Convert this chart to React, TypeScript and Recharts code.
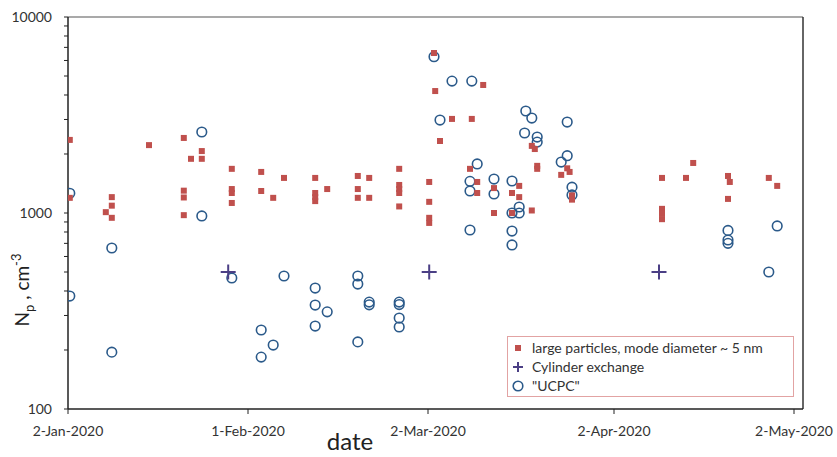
import { ScatterChart, Scatter, XAxis, YAxis, Legend, ReferenceLine } from 'recharts';

// [days since 2-Jan-2020, Np in cm^-3]
const largeParticles: [number, number][] = [
  [0.3, 2360], [0.3, 1195],
  [6.3, 1010], [7.3, 1205], [7.3, 1090], [7.3, 945],
  [13.5, 2220],
  [19.3, 2415], [19.3, 1300], [19.3, 1200], [19.3, 975],
  [20.5, 1890], [22.3, 2070], [22.3, 1890],
  [27.3, 1680], [27.3, 1325], [27.3, 1265], [27.3, 1125],
  [32.2, 1620], [32.2, 1295], [34.2, 1195], [36, 1510],
  [41.2, 1510], [41.2, 1265], [41.2, 1205], [41.2, 1150], [43.2, 1325],
  [48.3, 1545], [48.3, 1325], [48.3, 1195], [50.2, 1510], [50.2, 1195],
  [55.2, 1680], [55.2, 1390], [55.2, 1325], [55.2, 1265], [55.2, 1080],
  [60.2, 1440], [60.2, 1140], [60.2, 945], [60.2, 890],
  [61, 6550], [61.2, 4190], [62, 2330], [64, 3020],
  [67, 1680], [67.3, 3020], [68.2, 1440], [68.2, 1265], [69.2, 4500],
  [71, 1340], [71, 1000], [74, 1265], [74, 1000],
  [75.2, 1375], [75.2, 1205],
  [77.3, 2200], [77.8, 2120], [77.3, 1030], [78.2, 1740], [78.2, 1680],
  [82.2, 1565], [83.2, 1690], [83.6, 1620], [84, 1230], [84, 1170],
  [99, 1510], [99, 1050], [99, 990], [99, 930],
  [103, 1510], [104.2, 1800],
  [110, 1545], [110.3, 1440], [110, 1180],
  [116.8, 1510], [118.2, 1375],
];

const cylinderExchange: [number, number][] = [
  [26.7, 500], [60.2, 500], [98.5, 500],
];

const ucpc: [number, number][] = [
  [0.3, 1260], [0.3, 377],
  [7.3, 663], [7.3, 195],
  [22.3, 2590], [22.3, 966],
  [27.3, 466], [32.2, 253], [32.2, 184], [34.2, 212], [36, 477],
  [41.2, 414], [41.2, 339], [41.2, 265], [43.2, 313],
  [48.3, 477], [48.3, 434], [48.3, 220], [50.2, 351], [50.2, 340],
  [55.2, 351], [55.2, 341], [55.2, 291], [55.2, 262],
  [61, 6270], [62, 2980], [64, 4710], [67.3, 4710],
  [67, 1450], [67, 1295], [67, 819], [68.2, 1780],
  [71, 1490], [71, 1250],
  [74, 1456], [74, 1000], [74, 809], [74, 687], [75.2, 1073], [75.2, 1000],
  [76.3, 3315], [76.1, 2560], [77.3, 3050], [78.2, 2440], [78.2, 2300],
  [82.2, 1820], [83.2, 2910], [83.2, 1960], [84, 1355], [84, 1236],
  [110, 815], [110, 728], [110, 700],
  [116.8, 500], [118.2, 859],
];

const dateTicks = [0, 30, 60, 91, 121];
const dateLabels = ['2-Jan-2020', '1-Feb-2020', '2-Mar-2020', '2-Apr-2020', '2-May-2020'];

const npTicks = [
  100, 200, 300, 400, 500, 600, 700, 800, 900,
  1000, 2000, 3000, 4000, 5000, 6000, 7000, 8000, 9000,
  10000,
];
const npLabelled = [100, 1000, 10000];

const RED = '#c0504d';
const BLUE = '#2b5a8a';
const PURPLE = '#4b3f85';
const FONT = 'Lato, "Open Sans", sans-serif';

const Y_TICK_SIZE = 4;
const Y_TICK_MARGIN = 12;

const toPoints = (rows: [number, number][]) => rows.map(([day, np]) => ({ day, np }));

const SquareMark = (p: any) => (
  <rect x={p.cx - 3} y={p.cy - 3} width={6} height={6} fill={RED} />
);
const CircleMark = (p: any) => (
  <circle cx={p.cx} cy={p.cy} r={4.8} fill="none" stroke={BLUE} strokeWidth={1.6} />
);
const PlusMark = (p: any) => (
  <g stroke={PURPLE} strokeWidth={2}>
    <line x1={p.cx - 7.5} y1={p.cy} x2={p.cx + 7.5} y2={p.cy} />
    <line x1={p.cx} y1={p.cy - 7.5} x2={p.cx} y2={p.cy + 7.5} />
  </g>
);

const DateTick = (p: any) => {
  const i = dateTicks.indexOf(p.payload.value);
  return (
    <text x={p.x} y={p.y} dy="0.71em" textAnchor="middle" fontSize={14} fill="#333" fontFamily={FONT}>
      {dateLabels[i]}
    </text>
  );
};

// every log tick gets a short mark; only the decades get a number
const NpTick = (p: any) => {
  const axisX = p.x + Y_TICK_MARGIN + Y_TICK_SIZE;
  return (
    <g>
      <line x1={axisX - Y_TICK_SIZE} y1={p.y} x2={axisX} y2={p.y} stroke="#222" strokeWidth={1} />
      {npLabelled.includes(p.payload.value) && (
        <text x={p.x} y={p.y} dy="0.36em" textAnchor="end" fontSize={14} fill="#333" fontFamily={FONT}>
          {p.payload.value}
        </text>
      )}
    </g>
  );
};

const NpTitle = () => (
  <text
    transform="translate(29,290) rotate(-90)"
    textAnchor="middle"
    fontSize={19}
    fill="#222"
    fontFamily={FONT}
  >
    N<tspan fontSize={13} dy={5}>p</tspan>
    <tspan dy={-5}> , cm</tspan>
    <tspan fontSize={13} dy={-8}>-3</tspan>
  </text>
);

const DateTitle = () => (
  <text x={350} y={450} textAnchor="middle" fontSize={24} fill="#222" fontFamily={FONT}>
    date
  </text>
);

const legendRows = [
  { label: 'large particles, mode diameter ~ 5 nm', mark: 'square' },
  { label: 'Cylinder exchange', mark: 'plus' },
  { label: '"UCPC"', mark: 'circle' },
];

const LegendBox = () => (
  <div
    style={{
      boxSizing: 'border-box',
      width: 287,
      height: 61,
      border: '1px solid #e2a3a3',
      background: '#fff',
      paddingTop: 1,
      fontFamily: FONT,
      fontSize: 14,
      color: '#333',
    }}
  >
    {legendRows.map((r) => (
      <div key={r.label} style={{ display: 'flex', alignItems: 'center', height: 19 }}>
        <svg width={14} height={14} style={{ marginLeft: 3, marginRight: 7 }}>
          {r.mark === 'square' && <rect x={4} y={4} width={6} height={6} fill={RED} />}
          {r.mark === 'plus' && (
            <g stroke={PURPLE} strokeWidth={2}>
              <line x1={2} y1={7} x2={12} y2={7} />
              <line x1={7} y1={2} x2={7} y2={12} />
            </g>
          )}
          {r.mark === 'circle' && (
            <circle cx={7} cy={7} r={4.8} fill="none" stroke={BLUE} strokeWidth={1.6} />
          )}
        </svg>
        <span style={{ whiteSpace: 'nowrap' }}>{r.label}</span>
      </div>
    ))}
  </div>
);

export default function App() {
  return (
    <div style={{ position: 'absolute', left: 0, top: 0, width: 837, height: 457, background: '#fff' }}>
      <ScatterChart width={837} height={457} margin={{ top: 17, right: 34, left: 0, bottom: 0 }}>
        <XAxis
          type="number"
          dataKey="day"
          domain={[0, 122.5]}
          ticks={dateTicks}
          allowDataOverflow
          height={48}
          axisLine={{ stroke: '#222', strokeWidth: 1.5 }}
          tickLine={{ stroke: '#222' }}
          tickSize={5}
          tickMargin={12}
          tick={<DateTick />}
          label={{ content: <DateTitle /> }}
        />
        <YAxis
          type="number"
          dataKey="np"
          scale="log"
          domain={[100, 10000]}
          ticks={npTicks}
          allowDataOverflow
          width={68}
          axisLine={{ stroke: '#222', strokeWidth: 1.5 }}
          tickLine={false}
          tickSize={Y_TICK_SIZE}
          tickMargin={Y_TICK_MARGIN}
          interval={0}
          tick={<NpTick />}
          label={{ content: <NpTitle /> }}
        />
        <ReferenceLine y={10000} stroke="#8c8c8c" strokeWidth={1.5} />
        <ReferenceLine x={122.5} stroke="#333" strokeWidth={1.5} />
        <Scatter data={toPoints(ucpc)} shape={CircleMark} isAnimationActive={false} />
        <Scatter data={toPoints(largeParticles)} shape={SquareMark} isAnimationActive={false} />
        <Scatter data={toPoints(cylinderExchange)} shape={PlusMark} isAnimationActive={false} />
        <Legend
          layout="vertical"
          align="center"
          verticalAlign="middle"
          wrapperStyle={{ left: 507, top: 336, width: 287, height: 61 }}
          content={() => <LegendBox />}
        />
      </ScatterChart>
    </div>
  );
}
